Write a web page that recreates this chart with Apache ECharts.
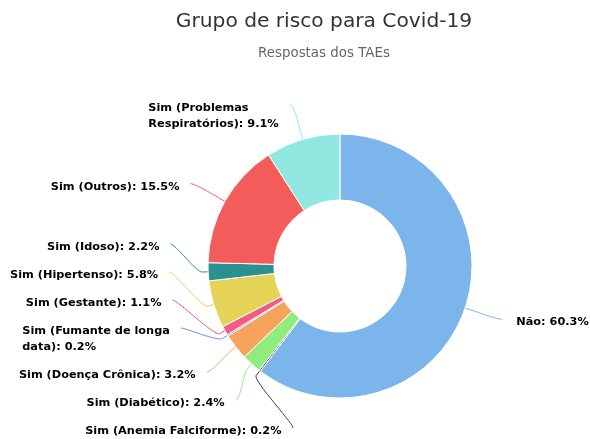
<!DOCTYPE html>
<html>
<head>
<meta charset="utf-8">
<script src="https://cdn.jsdelivr.net/npm/echarts@6/dist/echarts.min.js"></script>
<style>
  html, body { margin: 0; padding: 0; background: #fff; }
  #chart { width: 590px; height: 439px; }
</style>
</head>
<body>
<div id="chart"></div>
<script>
var categories = ['Não', 'Sim (Anemia Falciforme)', 'Sim (Diabético)', 'Sim (Doença Crônica)',
  'Sim (Fumante de longa\ndata)', 'Sim (Gestante)', 'Sim (Hipertenso)', 'Sim (Idoso)',
  'Sim (Outros)', 'Sim (Problemas\nRespiratórios)'];
var percents = [60.3, 0.2, 2.4, 3.2, 0.2, 1.1, 5.8, 2.2, 15.5, 9.1];
var colors = ['#7cb5ec', '#434348', '#90ed7d', '#f7a35c', '#8085e9', '#f15c80',
  '#e4d354', '#2b908f', '#f45b5b', '#91e8e1'];

var chart = echarts.init(document.getElementById('chart'));
window.onresize = function () { chart.resize(); };

// pie geometry
var cx = 340, cy = 266, r = 132, rIn = 66;
var labelR = 168, lineH = 16, boxPad = 12;
var H = 439;

// highcharts-like label placement: labels sit on a circle, crowded ones get spread
var total = percents.reduce(function (a, b) { return a + b; }, 0);
var acc = 0;
var info = percents.map(function (v, i) {
  var mid = (acc + v / 2) / total * Math.PI * 2;
  acc += v;
  var lines = categories[i].split('\n').length;
  return { i: i, ang: mid, left: Math.sin(mid) < 0, target: cy - labelR * Math.cos(mid),
    size: lines * lineH + boxPad };
});

function distribute(items, minY, maxY) {
  items.sort(function (a, b) { return a.target - b.target; });
  var groups = items.map(function (it) { return { items: [it], top: it.target - 14, size: it.size }; });
  function place(g) {
    var off = 0, s = 0;
    g.items.forEach(function (it) { s += it.target - 14 - off; off += it.size; });
    g.top = s / g.items.length;
    g.top = Math.max(minY, Math.min(g.top, maxY - g.size));
  }
  groups.forEach(place);
  var merged = true;
  while (merged) {
    merged = false;
    for (var k = 0; k < groups.length - 1; k++) {
      if (groups[k].top + groups[k].size > groups[k + 1].top) {
        var g = { items: groups[k].items.concat(groups[k + 1].items), size: groups[k].size + groups[k + 1].size };
        place(g);
        groups.splice(k, 2, g);
        merged = true;
        break;
      }
    }
  }
  groups.forEach(function (g) {
    var off = 0;
    g.items.forEach(function (it) { it.y = g.top + off + 14; off += it.size; });
  });
}
distribute(info.filter(function (d) { return d.left; }), 80, H + 3);
distribute(info.filter(function (d) { return !d.left; }), 80, H + 3);

// soft connector: cubic curve from label to a break point, then straight to the slice
info.forEach(function (d) {
  var dy = Math.max(-labelR, Math.min(labelR, d.y - cy));
  var dx = Math.sqrt(labelR * labelR - dy * dy) + 3;
  d.x = d.left ? cx - dx : cx + dx;
  var s = Math.sin(d.ang), c = Math.cos(d.ang);
  var edge = [cx + r * s, cy - r * c];
  var brk = [cx + (r + 6) * s, cy - (r + 6) * c];
  var p0 = [d.x, d.y], p1 = [d.x + (d.left ? 5 : -5), d.y];
  var p2 = [2 * brk[0] - edge[0], 2 * brk[1] - edge[1]];
  var pts = [];
  for (var k = 0; k <= 16; k++) {
    var t = k / 16, u = 1 - t;
    pts.push([
      u * u * u * p0[0] + 3 * u * u * t * p1[0] + 3 * u * t * t * p2[0] + t * t * t * brk[0],
      u * u * u * p0[1] + 3 * u * u * t * p1[1] + 3 * u * t * t * p2[1] + t * t * t * brk[1]
    ]);
  }
  pts.push(edge);
  d.line = pts;
});

var data = categories.map(function (c, i) {
  return { name: c, value: percents[i], itemStyle: { color: colors[i] },
    labelLine: { lineStyle: { color: colors[i] } } };
});

var option = {
  backgroundColor: '#fff',
  animation: false,
  title: {
    text: 'Grupo de risco para Covid-19',
    subtext: 'Respostas dos TAEs',
    left: 319,
    top: 7,
    textAlign: 'center',
    itemGap: 15,
    textStyle: { fontFamily: 'DejaVu Sans', fontSize: 20.2, fontWeight: 'normal', color: '#333' },
    subtextStyle: { fontFamily: 'DejaVu Sans', fontSize: 13.4, color: '#666' }
  },
  series: [{
    type: 'pie',
    center: [cx, cy],
    radius: [rIn, r],
    startAngle: 90,
    clockwise: true,
    avoidLabelOverlap: false,
    itemStyle: { borderColor: '#fff', borderWidth: 1 },
    emphasis: { scale: false },
    label: {
      show: true,
      position: 'outside',
      overflow: 'none',
      align: 'left',
      formatter: function (p) { return p.name + ': ' + p.value.toFixed(1) + '%'; },
      fontFamily: 'DejaVu Sans',
      fontSize: 11.3,
      fontWeight: 'bold',
      color: '#000',
      lineHeight: lineH
    },
    labelLine: { show: true, smooth: false, lineStyle: { width: 1 } },
    labelLayout: function (p) {
      var d = info[p.dataIndex];
      return {
        x: d.left ? d.x - 11 - p.labelRect.width : d.x + 14,
        y: d.y - 5,
        align: 'left',
        verticalAlign: 'top',
        labelLinePoints: d.line
      };
    },
    data: data
  }]
};
chart.setOption(option);
</script>
</body>
</html>
